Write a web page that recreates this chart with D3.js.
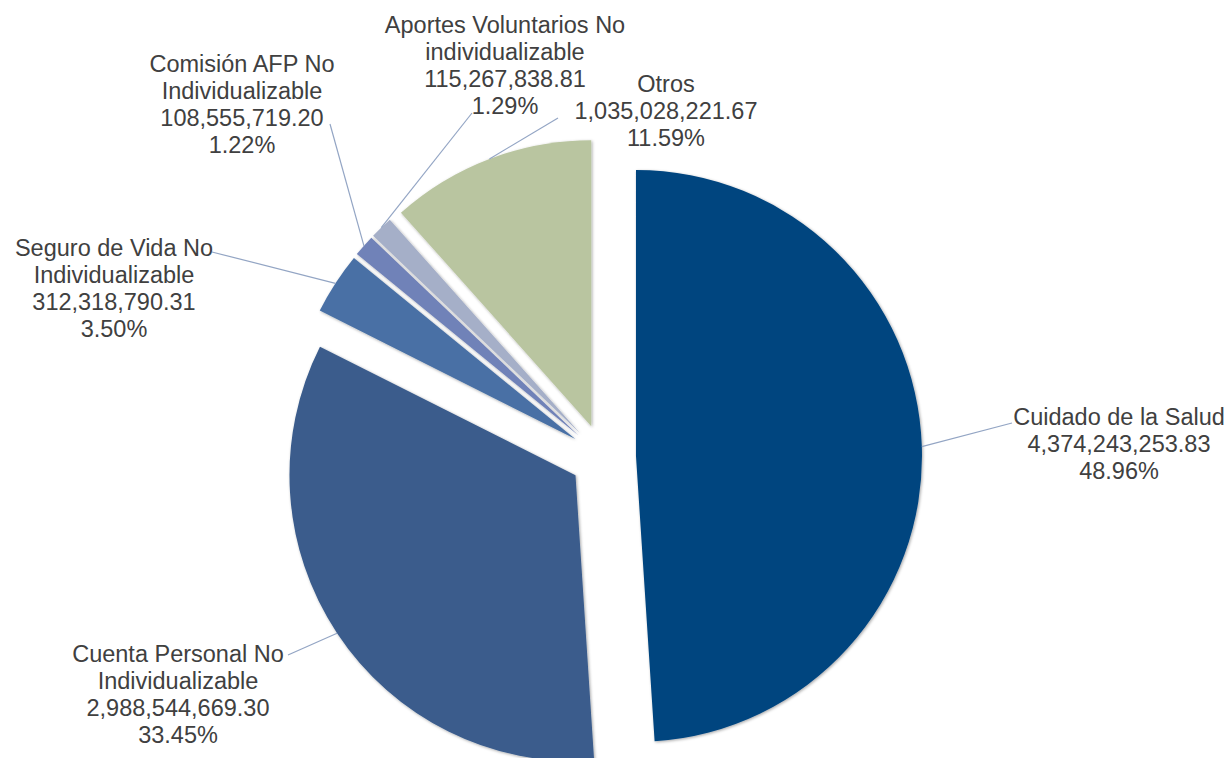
<!DOCTYPE html>
<html>
<head>
<meta charset="utf-8">
<script src="https://cdn.jsdelivr.net/npm/d3@7"></script>
<style>
  body { margin: 0; background: #fff; }
  text { font-family: "Liberation Sans", Arial, sans-serif; }
</style>
</head>
<body>
<svg width="1229" height="758"></svg>
<script>
// data
let categories = ["Cuidado de la Salud", "Cuenta Personal No Individualizable",
  "Seguro de Vida No Individualizable", "Comisión AFP No Individualizable",
  "Aportes Voluntarios No individualizable", "Otros"];
let nameLines = [["Cuidado de la Salud"], ["Cuenta Personal No", "Individualizable"],
  ["Seguro de Vida No", "Individualizable"], ["Comisión AFP No", "Individualizable"],
  ["Aportes Voluntarios No", "individualizable"], ["Otros"]];
let values = [4374243253.83, 2988544669.30, 312318790.31, 108555719.20, 115267838.81, 1035028221.67];
let colors = ["#02457f", "#3a5c8c", "#4870a5", "#7082b8", "#a5afc8", "#b9c5a0"];

// label placement (x center, first baseline, leader end)
let labelPos = [
  {x: 1119, y: 425, lx: 1012, ly: 423},
  {x: 178, y: 662, lx: 288, ly: 655},
  {x: 114, y: 256, lx: 212, ly: 252},
  {x: 242, y: 72, lx: 330, ly: 124},
  {x: 505, y: 33, lx: 472, ly: 113},
  {x: 666, y: 92, lx: 558, ly: 118}
];

let svg = d3.select("svg"),
    width = +svg.attr("width"),
    height = +svg.attr("height");

let cx = 603, cy = 457, radius = 286, explode = 33, lineH = 27;

svg.append("rect").attr("width", width).attr("height", height).attr("fill", "#fff");

let defs = svg.append("defs");
defs.append("filter").attr("id", "shadow")
    .attr("x", "-10%").attr("y", "-10%").attr("width", "120%").attr("height", "120%")
  .append("feDropShadow")
    .attr("dx", 1).attr("dy", 1)
    .attr("stdDeviation", 1.5)
    .attr("flood-color", "#000")
    .attr("flood-opacity", 0.35);

let total = d3.sum(values);
let fmtVal = d3.format(",.2f");
let fmtPct = d3.format(".2%");

let pie = d3.pie().sort(null).value(function(d) { return d; });
let arcs = pie(values);
let arc = d3.arc().innerRadius(0).outerRadius(radius);

function offset(d, r) {
  let a = (d.startAngle + d.endAngle) / 2;
  return [Math.sin(a) * r, -Math.cos(a) * r];
}

let g = svg.append("g").attr("transform", "translate(" + cx + "," + cy + ")");

g.selectAll("path.slice")
  .data(arcs)
  .enter().append("path")
    .attr("class", "slice")
    .attr("d", arc)
    .attr("fill", function(d, i) { return colors[i]; })
    .attr("filter", "url(#shadow)")
    .attr("transform", function(d) {
      let o = offset(d, explode);
      return "translate(" + o[0] + "," + o[1] + ")";
    });

// leader lines
g.selectAll("line.leader")
  .data(arcs)
  .enter().append("line")
    .attr("class", "leader")
    .attr("x1", function(d) { return offset(d, explode)[0] + offset(d, radius)[0]; })
    .attr("y1", function(d) { return offset(d, explode)[1] + offset(d, radius)[1]; })
    .attr("x2", function(d, i) { return labelPos[i].lx - cx; })
    .attr("y2", function(d, i) { return labelPos[i].ly - cy; })
    .attr("stroke", "#93a5c4")
    .attr("stroke-width", 1.2);

// labels
let labels = svg.selectAll("text.lbl")
  .data(arcs)
  .enter().append("text")
    .attr("class", "lbl")
    .attr("text-anchor", "middle")
    .attr("fill", "#404040")
    .style("font-size", "23.5px");

labels.each(function(d, i) {
  let lines = nameLines[i].concat([fmtVal(d.data), fmtPct(d.data / total)]);
  let t = d3.select(this);
  lines.forEach(function(s, k) {
    t.append("tspan")
      .attr("x", labelPos[i].x)
      .attr("y", labelPos[i].y + k * lineH)
      .text(s);
  });
});
</script>
</body>
</html>
